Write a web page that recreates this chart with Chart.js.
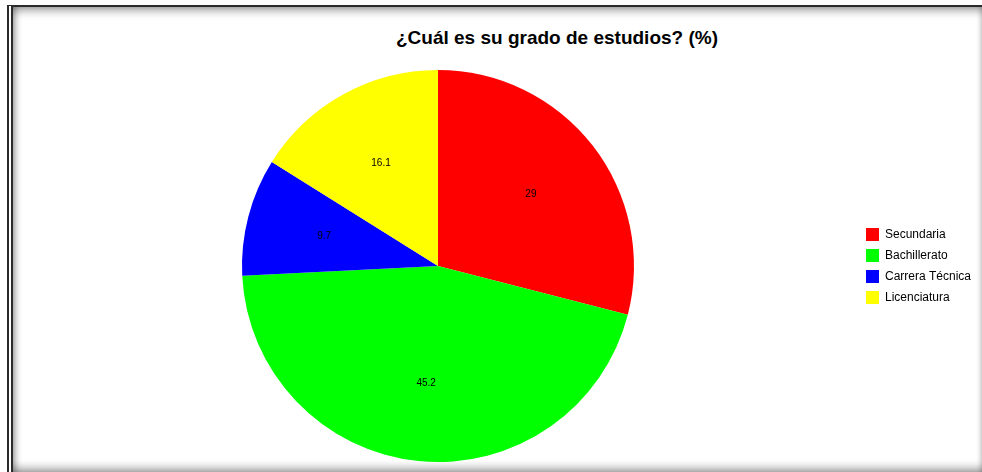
<!DOCTYPE html>
<html>
<head>
<meta charset="utf-8">
<script src="https://cdn.jsdelivr.net/npm/chart.js@4.4.0/dist/chart.umd.min.js"></script>
<style>
  html, body { margin: 0; padding: 0; width: 982px; height: 472px; overflow: hidden; background: #fff; }
  #frame {
    position: absolute; left: 7px; top: 5px; width: 975px; height: 467px;
    box-sizing: border-box;
    border-top: 2px solid #2b2b2b;
    border-left: 6px double #2b2b2b;
    box-shadow: inset 0 9px 9px -5px rgba(0,0,0,0.35),
                inset 6px 0 6px -3px rgba(0,0,0,0.3),
                inset 0 -9px 9px -5px rgba(0,0,0,0.35),
                inset -4px 0 4px -2px rgba(0,0,0,0.15);
  }
  #title {
    position: absolute; left: 357px; width: 400px; top: 27px;
    text-align: center; line-height: 21px;
    font: bold 19px "Liberation Sans", Arial, sans-serif; color: #000;
  }
  #wrap { position: absolute; left: 0; top: 0; width: 982px; height: 472px; }
</style>
</head>
<body>
<div id="frame"></div>
<div id="title">¿Cuál es su grado de estudios? (%)</div>
<div id="wrap"><canvas id="grafica"></canvas></div>
<script>
const categorias = ['Secundaria', 'Bachillerato', 'Carrera Técnica', 'Licenciatura'];
const valores = [29, 45.2, 9.7, 16.1];
const colores = ['#ff0000', '#00ff00', '#0000ff', '#ffff00'];

// etiquetas de valor dentro de cada rebanada (a 0.6 del radio)
const etiquetasRebanada = {
    id: 'etiquetasRebanada',
    afterDatasetsDraw(chart) {
        const ctx = chart.ctx;
        const meta = chart.getDatasetMeta(0);
        ctx.save();
        ctx.font = '10px "Liberation Sans", Arial, sans-serif';
        ctx.fillStyle = '#000';
        ctx.textAlign = 'center';
        ctx.textBaseline = 'middle';
        meta.data.forEach((arc, i) => {
            const p = arc.getProps(['x', 'y', 'startAngle', 'endAngle', 'outerRadius'], true);
            const mid = (p.startAngle + p.endAngle) / 2;
            const r = p.outerRadius * 0.6;
            ctx.fillText(String(valores[i]), p.x + Math.cos(mid) * r, p.y + Math.sin(mid) * r);
        });
        ctx.restore();
    }
};

const ctx = document.getElementById('grafica').getContext('2d');
new Chart(ctx, {
    type: 'pie',
    data: {
        labels: categorias,
        datasets: [{
            data: valores,
            backgroundColor: colores,
            borderWidth: 0
        }]
    },
    options: {
        responsive: true,
        maintainAspectRatio: false,
        animation: false,
        layout: { padding: { left: 18, top: 70, bottom: 10, right: 1 } },
        plugins: {
            title: { display: false },
            tooltip: { enabled: false },
            legend: {
                position: 'right',
                labels: {
                    boxWidth: 13,
                    boxHeight: 13,
                    padding: 8,
                    color: '#000',
                    font: { size: 12, family: '"Liberation Sans", Arial, sans-serif' }
                }
            }
        }
    },
    plugins: [etiquetasRebanada]
});
</script>
</body>
</html>
